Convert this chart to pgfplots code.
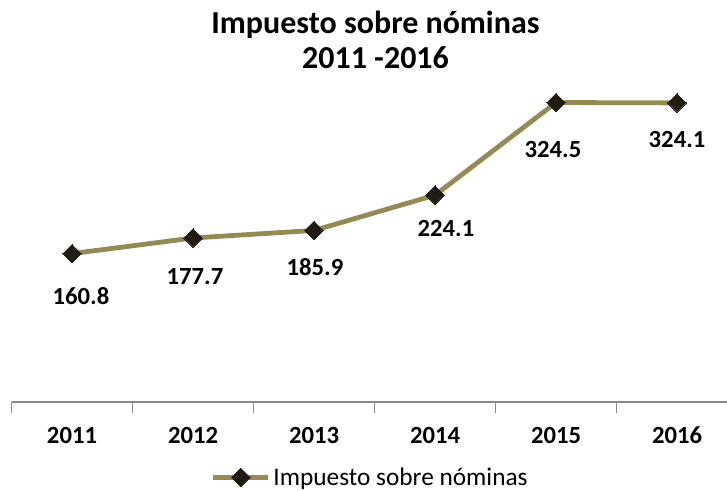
\documentclass[border=0pt]{standalone}
\usepackage{pgfplots}
\pgfplotsset{compat=1.18}
\usepackage{fontspec}
\setmainfont{Carlito}
\definecolor{olivel}{RGB}{148,138,84}
\definecolor{mk}{RGB}{32,28,18}
\definecolor{axgray}{RGB}{137,137,137}
\begin{document}
\begin{tikzpicture}
\begin{axis}[
  name=ax, at={(0,0)}, anchor=south west,
  scale only axis, width=536.625pt, height=242.25pt,
  xmin=-0.5, xmax=5.413, ymin=0, ymax=350,
  axis x line*=bottom, axis y line=none,
  x axis line style={axgray, line width=1.1pt},
  xtick={0,1,2,3,4,5},
  xticklabels={2011,2012,2013,2014,2015,2016},
  major tick length=0pt,
  minor xtick={-0.5,0.5,1.5,2.5,3.5,4.5},
  minor tick length=8pt, tick align=outside,
  minor tick style={axgray, line width=1.1pt},
  xticklabel style={font=\bfseries\fontsize{18.5}{22}\selectfont, anchor=center, yshift=-25pt},
  ytick=\empty,
  clip=false,
  legend style={at={(0.502,-0.233)}, anchor=center, draw=none, fill=none,
    font=\fontsize{19}{23}\selectfont, inner sep=0pt},
  legend image code/.code={\draw[mark repeat=2,mark phase=2,#1] plot coordinates {(0pt,0pt) (20.6pt,0pt) (41.2pt,0pt)};},
]
\addplot[color=olivel, line width=3.6pt, mark=square*, mark size=4.9pt,
  mark options={rotate=45, fill=mk, draw=mk, line width=0pt, solid},
  nodes near coords, point meta=explicit symbolic,
  visualization depends on={\thisrow{dx} \as \dx},
  visualization depends on={\thisrow{dy} \as \dy},
  nodes near coords style={anchor=center, xshift=\dx pt, yshift=\dy pt,
    font=\bfseries\fontsize{18.5}{22}\selectfont, text=black}]
  table[x=x, y=y, meta=lab] {
x y lab dx dy
0 160.8 160.8 6.75 -31.5
1 177.7 177.7 1.5 -29.25
2 185.9 185.9 0.75 -27.75
3 224.1 224.1 8.25 -24.75
4 324.5 324.5 -2.25 -35.25
5 324.1 324.1 0 -27.75
};
\addlegendentry{Impuesto sobre nóminas}
\end{axis}
\node[font=\bfseries\fontsize{24}{29}\selectfont, anchor=base] at (273pt,276.5pt) {Impuesto sobre nóminas};
\node[font=\bfseries\fontsize{24}{29}\selectfont, anchor=base] at (273pt,250.3pt) {2011 -2016};
\pgfresetboundingbox
\path[use as bounding box] (-8.625pt,-66.75pt) rectangle (536.625pt,301.5pt);
\end{tikzpicture}
\end{document}
